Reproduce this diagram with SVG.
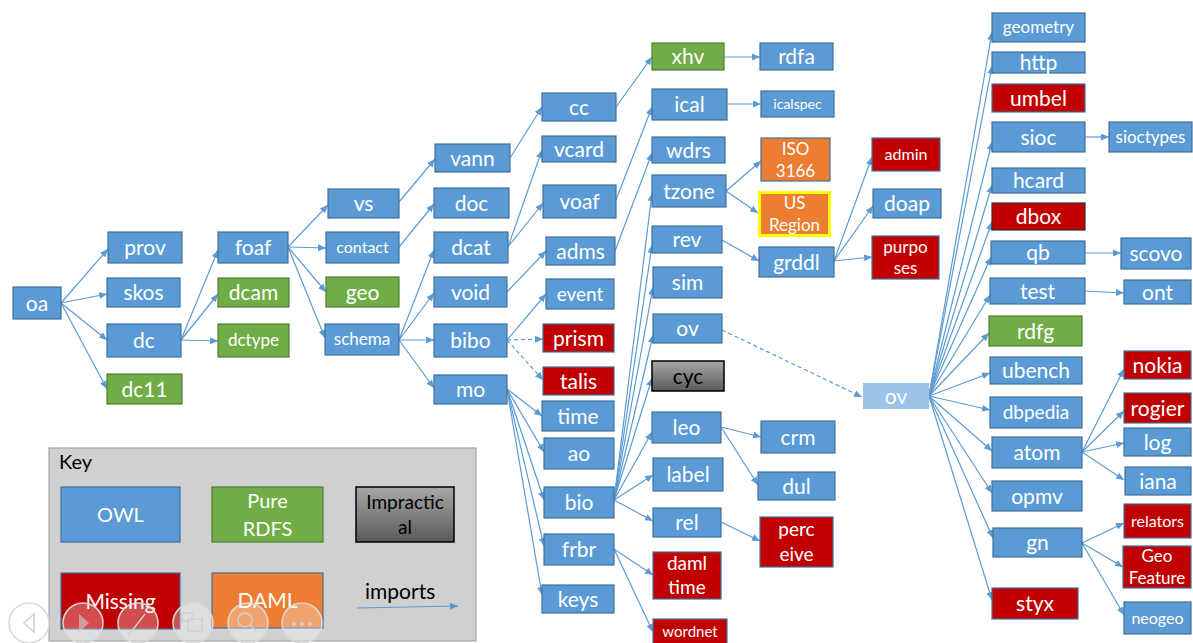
<svg xmlns="http://www.w3.org/2000/svg" width="1193" height="643" viewBox="0 0 1193 643">
<defs>
<style>
.owl{fill:#5B9BD5;stroke:#41719C;stroke-width:1.2}
.rdfs{fill:#70AD47;stroke:#507E32;stroke-width:1.2}
.miss{fill:#C00000;stroke:#41719C;stroke-width:1.2}
.daml{fill:#ED7D31;stroke:#41719C;stroke-width:1.2}
.imp{fill:url(#gray);stroke:#000;stroke-width:1.5}
.lt{fill:#9DC3E6}
text{font-family:Lato,"Liberation Sans",sans-serif;text-anchor:middle;dominant-baseline:central;fill:#fff;font-size:21px;transform:translateY(-1px)}
.k{fill:#000}
.s19{font-size:19px}.s17{font-size:17px}.s16{font-size:16px}.s15{font-size:15px}.s14{font-size:14px}
.e{stroke:#5B9BD5;stroke-width:1.2;fill:none;marker-end:url(#ah)}
.d{stroke-dasharray:4 3}
.ui{fill:#fff;fill-opacity:.3;stroke:#d9d9d9;stroke-width:1.5}
.ic{fill:none;stroke:#d0d0d0;stroke-width:1.5}
</style>
<linearGradient id="gray" x1="0" y1="0" x2="0" y2="1"><stop offset="0" stop-color="#a8a8a8"/><stop offset="1" stop-color="#5a5a5a"/></linearGradient>
<marker id="ah" markerWidth="8" markerHeight="7" refX="8" refY="3.5" orient="auto" markerUnits="userSpaceOnUse"><path d="M0,0 L8,3.5 L0,7 z" fill="#5B9BD5"/></marker>
</defs>
<rect width="1193" height="643" fill="#fff"/>

<g id="legend">
<rect x="49" y="448" width="427" height="193" fill="#d0d0d0" stroke="#a6a6a6" stroke-width="1.2"/>
<text x="59" y="462" class="k" style="text-anchor:start;font-size:20px">Key</text>
<rect class="owl" x="61" y="487" width="119" height="55"/><text x="120.5" y="514.5" style="font-size:20px">OWL</text>
<rect class="rdfs" x="212" y="487" width="111" height="55"/><text x="267.5" y="500.5" style="font-size:20px">Pure</text><text x="267.5" y="528.5" style="font-size:20px">RDFS</text>
<rect class="imp" x="356" y="487" width="98" height="55"/><text class="k s19" x="405" y="502">Impractic</text><text class="k s19" x="405" y="527">al</text>
<rect class="miss" x="61" y="573" width="119" height="56"/><text x="120.5" y="601">Missing</text>
<rect class="daml" x="212" y="573" width="111" height="55"/><text x="267.5" y="600.5">DAML</text>
<text x="365" y="591" class="k" style="text-anchor:start">imports</text>
<line class="e" x1="357" y1="608" x2="458" y2="606"/>
</g>

<g id="connectors">
<line class="e" x1="61" y1="303" x2="108" y2="249"/>
<line class="e" x1="61" y1="303" x2="107" y2="294"/>
<line class="e" x1="61" y1="303" x2="107" y2="340"/>
<line class="e" x1="61" y1="303" x2="107" y2="389"/>
<line class="e" x1="181" y1="340" x2="218" y2="250"/>
<line class="e" x1="181" y1="340" x2="218" y2="294"/>
<line class="e" x1="181" y1="340" x2="218" y2="341"/>
<line class="e" x1="288" y1="247" x2="328" y2="205"/>
<line class="e" x1="288" y1="247" x2="326" y2="248"/>
<line class="e" x1="288" y1="247" x2="326" y2="292"/>
<line class="e" x1="288" y1="247" x2="325" y2="338"/>
<line class="e" x1="399" y1="202" x2="435" y2="159"/>
<line class="e" x1="399" y1="247" x2="434" y2="204"/>
<line class="e" x1="399" y1="340" x2="434" y2="250"/>
<line class="e" x1="399" y1="340" x2="434" y2="293"/>
<line class="e" x1="399" y1="340" x2="434" y2="340"/>
<line class="e" x1="399" y1="340" x2="434" y2="388"/>
<line class="e" x1="510" y1="158" x2="542" y2="107"/>
<line class="e" x1="508" y1="247" x2="542" y2="150"/>
<line class="e" x1="508" y1="247" x2="543" y2="203"/>
<line class="e" x1="507" y1="292" x2="546" y2="251"/>
<line class="e" x1="507" y1="340" x2="546" y2="294"/>
<line class="e d" x1="507" y1="340" x2="543" y2="339"/>
<line class="e d" x1="507" y1="340" x2="543" y2="380"/>
<line class="e" x1="507" y1="389" x2="542" y2="416"/>
<line class="e" x1="507" y1="389" x2="544" y2="452"/>
<line class="e" x1="507" y1="389" x2="544" y2="500"/>
<line class="e" x1="507" y1="389" x2="544" y2="546"/>
<line class="e" x1="507" y1="389" x2="542" y2="595"/>
<line class="e" x1="616" y1="107" x2="652" y2="57"/>
<line class="e" x1="616" y1="200" x2="652" y2="107"/>
<line class="e" x1="615" y1="251" x2="652" y2="153"/>
<line class="e" x1="614" y1="500" x2="652" y2="193"/>
<line class="e" x1="614" y1="500" x2="652" y2="245"/>
<line class="e" x1="614" y1="500" x2="653" y2="287"/>
<line class="e" x1="614" y1="500" x2="653" y2="335"/>
<line class="e" x1="614" y1="500" x2="652" y2="378"/>
<line class="e" x1="614" y1="500" x2="652" y2="432"/>
<line class="e" x1="614" y1="500" x2="653" y2="475"/>
<line class="e" x1="614" y1="500" x2="653" y2="521"/>
<line class="e" x1="614" y1="549" x2="653" y2="575"/>
<line class="e" x1="614" y1="549" x2="653" y2="632"/>
<line class="e" x1="724" y1="57" x2="760" y2="57"/>
<line class="e" x1="727" y1="104" x2="761" y2="104"/>
<line class="e" x1="726" y1="191" x2="761" y2="161"/>
<line class="e" x1="726" y1="191" x2="758" y2="213"/>
<line class="e" x1="722" y1="240" x2="759" y2="261"/>
<line class="e" x1="834" y1="261" x2="872" y2="157"/>
<line class="e" x1="834" y1="261" x2="873" y2="206"/>
<line class="e" x1="834" y1="261" x2="872" y2="257"/>
<line class="e d" x1="722" y1="330" x2="862" y2="397"/>
<line class="e" x1="721" y1="427" x2="761" y2="437"/>
<line class="e" x1="721" y1="427" x2="758" y2="485"/>
<line class="e" x1="721" y1="522" x2="760" y2="541"/>
<line class="e" x1="929" y1="396" x2="992" y2="32"/>
<line class="e" x1="929" y1="396" x2="992" y2="66"/>
<line class="e" x1="929" y1="396" x2="992" y2="142"/>
<line class="e" x1="929" y1="396" x2="992" y2="185"/>
<line class="e" x1="929" y1="396" x2="992" y2="222"/>
<line class="e" x1="929" y1="396" x2="991" y2="257"/>
<line class="e" x1="929" y1="396" x2="990" y2="295"/>
<line class="e" x1="929" y1="396" x2="989" y2="333"/>
<line class="e" x1="929" y1="396" x2="990" y2="373"/>
<line class="e" x1="929" y1="396" x2="990" y2="410"/>
<line class="e" x1="929" y1="396" x2="992" y2="451"/>
<line class="e" x1="929" y1="396" x2="992" y2="493"/>
<line class="e" x1="929" y1="396" x2="993" y2="538"/>
<line class="e" x1="929" y1="396" x2="992" y2="600"/>
<line class="e" x1="1085" y1="137" x2="1109" y2="137"/>
<line class="e" x1="1085" y1="253" x2="1121" y2="253"/>
<line class="e" x1="1085" y1="291" x2="1124" y2="293"/>
<line class="e" x1="1082" y1="452" x2="1124" y2="369"/>
<line class="e" x1="1082" y1="452" x2="1124" y2="411"/>
<line class="e" x1="1082" y1="452" x2="1124" y2="443"/>
<line class="e" x1="1082" y1="452" x2="1124" y2="480"/>
<line class="e" x1="1082" y1="543" x2="1124" y2="523"/>
<line class="e" x1="1082" y1="543" x2="1123" y2="567"/>
<line class="e" x1="1082" y1="543" x2="1124" y2="615"/>
</g>

<g id="n-oa"><rect class="owl" x="13" y="287" width="48" height="32"/><text x="37" y="303">oa</text></g>
<g id="n-prov"><rect class="owl" x="108" y="232" width="74" height="31"/><text x="145" y="247.5">prov</text></g>
<g id="n-skos"><rect class="owl" x="107" y="278" width="73" height="29"/><text x="143.5" y="292.5">skos</text></g>
<g id="n-dc"><rect class="owl" x="107" y="324" width="74" height="33"/><text x="144" y="340.5">dc</text></g>
<g id="n-dc11"><rect class="rdfs" x="107" y="374" width="75" height="30"/><text x="144.5" y="389">dc11</text></g>
<g id="n-foaf"><rect class="owl" x="218" y="232" width="70" height="31"/><text x="253" y="247.5">foaf</text></g>
<g id="n-dcam"><rect class="rdfs" x="218" y="278" width="71" height="29"/><text x="253.5" y="292.5">dcam</text></g>
<g id="n-dctype"><rect class="rdfs" x="218" y="324" width="71" height="33"/><text class="s17" x="253.5" y="340.5">dctype</text></g>
<g id="n-vs"><rect class="owl" x="328" y="189" width="71" height="29"/><text x="363.5" y="203.5">vs</text></g>
<g id="n-contact"><rect class="owl" x="326" y="232" width="73" height="31"/><text class="s16" x="362.5" y="247.5">contact</text></g>
<g id="n-geo"><rect class="rdfs" x="326" y="277" width="73" height="30"/><text x="362.5" y="292">geo</text></g>
<g id="n-schema"><rect class="owl" x="325" y="324" width="74" height="31"/><text class="s17" x="362" y="339.5">schema</text></g>
<g id="n-vann"><rect class="owl" x="435" y="144" width="75" height="28"/><text x="472.5" y="158">vann</text></g>
<g id="n-doc"><rect class="owl" x="434" y="188" width="75" height="30"/><text x="471.5" y="203">doc</text></g>
<g id="n-dcat"><rect class="owl" x="434" y="232" width="74" height="31"/><text x="471" y="247.5">dcat</text></g>
<g id="n-void"><rect class="owl" x="434" y="277" width="73" height="30"/><text x="470.5" y="292">void</text></g>
<g id="n-bibo"><rect class="owl" x="434" y="324" width="73" height="33"/><text x="470.5" y="340.5">bibo</text></g>
<g id="n-mo"><rect class="owl" x="434" y="375" width="73" height="29"/><text x="470.5" y="389.5">mo</text></g>
<g id="n-cc"><rect class="owl" x="542" y="93" width="74" height="28"/><text x="579" y="107">cc</text></g>
<g id="n-vcard"><rect class="owl" x="542" y="136" width="74" height="26"/><text x="579" y="149">vcard</text></g>
<g id="n-voaf"><rect class="owl" x="543" y="185" width="73" height="33"/><text x="579.5" y="201.5">voaf</text></g>
<g id="n-adms"><rect class="owl" x="546" y="237" width="69" height="28"/><text x="580.5" y="251">adms</text></g>
<g id="n-event"><rect class="owl" x="546" y="279" width="68" height="30"/><text class="s19" x="580" y="294">event</text></g>
<g id="n-prism"><rect class="miss" x="543" y="324" width="71" height="28"/><text x="578.5" y="338">prism</text></g>
<g id="n-talis"><rect class="miss" x="543" y="367" width="71" height="28"/><text x="578.5" y="381">talis</text></g>
<g id="n-time"><rect class="owl" x="542" y="401" width="72" height="30"/><text x="578" y="416">time</text></g>
<g id="n-ao"><rect class="owl" x="544" y="438" width="70" height="31"/><text x="579" y="453.5">ao</text></g>
<g id="n-bio"><rect class="owl" x="544" y="487" width="70" height="31"/><text x="579" y="502.5">bio</text></g>
<g id="n-frbr"><rect class="owl" x="544" y="534" width="70" height="31"/><text x="579" y="549.5">frbr</text></g>
<g id="n-keys"><rect class="owl" x="542" y="585" width="72" height="28"/><text x="578" y="599">keys</text></g>
<g id="n-xhv"><rect class="rdfs" x="652" y="43" width="72" height="27"/><text x="688" y="56.5">xhv</text></g>
<g id="n-rdfa"><rect class="owl" x="760" y="43" width="73" height="27"/><text x="796.5" y="56.5">rdfa</text></g>
<g id="n-ical"><rect class="owl" x="652" y="89" width="75" height="31"/><text x="689.5" y="104.5">ical</text></g>
<g id="n-icalspec"><rect class="owl" x="761" y="91" width="73" height="26"/><text class="s14" x="797.5" y="104">icalspec</text></g>
<g id="n-wdrs"><rect class="owl" x="652" y="137" width="73" height="26"/><text x="688.5" y="150">wdrs</text></g>
<g id="n-tzone"><rect class="owl" x="652" y="175" width="74" height="32"/><text x="689" y="191">tzone</text></g>
<g id="n-iso3166"><rect class="daml" x="761" y="138" width="69" height="43"/><text class="s17" x="795.5" y="149">ISO</text><text class="s17" x="795.5" y="171">3166</text></g>
<g id="n-usregion"><rect class="daml" x="759.5" y="192.5" width="70" height="43" style="stroke:#FFFF00;stroke-width:3"/><text class="s17" x="794.5" y="203.5">US</text><text class="s17" x="794.5" y="225.5">Region</text></g>
<g id="n-rev"><rect class="owl" x="652" y="226" width="70" height="27"/><text x="687" y="239.5">rev</text></g>
<g id="n-sim"><rect class="owl" x="653" y="267" width="69" height="31"/><text x="687.5" y="282.5">sim</text></g>
<g id="n-ov"><rect class="owl" x="653" y="314" width="69" height="29"/><text x="687.5" y="328.5">ov</text></g>
<g id="n-cyc"><rect class="imp" x="652" y="361" width="72" height="30"/><text class="k" x="688" y="376">cyc</text></g>
<g id="n-leo"><rect class="owl" x="652" y="412" width="69" height="31"/><text x="686.5" y="427.5">leo</text></g>
<g id="n-label"><rect class="owl" x="653" y="458" width="70" height="33"/><text x="688" y="474.5">label</text></g>
<g id="n-rel"><rect class="owl" x="653" y="508" width="68" height="29"/><text x="687" y="522.5">rel</text></g>
<g id="n-damltime"><rect class="miss" x="653" y="552" width="68" height="47"/><text class="s19" x="687" y="563.5">daml</text><text class="s19" x="687" y="587.5">time</text></g>
<g id="n-wordnet"><rect class="miss" x="653" y="619" width="74" height="26"/><text class="s15" x="690" y="632">wordnet</text></g>
<g id="n-grddl"><rect class="owl" x="759" y="247" width="75" height="30"/><text x="796.5" y="262">grddl</text></g>
<g id="n-crm"><rect class="owl" x="761" y="421" width="74" height="32"/><text x="798" y="437">crm</text></g>
<g id="n-dul"><rect class="owl" x="758" y="472" width="77" height="28"/><text x="796.5" y="486">dul</text></g>
<g id="n-perceive"><rect class="miss" x="760" y="517" width="73" height="50"/><text class="s19" x="796.5" y="529.5">perc</text><text class="s19" x="796.5" y="554.5">eive</text></g>
<g id="n-admin"><rect class="miss" x="872" y="138" width="68" height="33"/><text class="s16" x="906" y="154.5">admin</text></g>
<g id="n-doap"><rect class="owl" x="873" y="189" width="68" height="29"/><text x="907" y="203.5">doap</text></g>
<g id="n-purposes"><rect class="miss" x="872" y="236" width="67" height="43"/><text class="s17" x="905.5" y="247">purpo</text><text class="s17" x="905.5" y="268">ses</text></g>
<g id="n-ov2"><rect class="lt" x="863" y="383" width="66" height="26"/><text x="896" y="396">ov</text></g>
<g id="n-geometry"><rect class="owl" x="992" y="13" width="93" height="29"/><text class="s17" x="1038.5" y="27.5">geometry</text></g>
<g id="n-http"><rect class="owl" x="992" y="52" width="93" height="21"/><text x="1038.5" y="62.5">http</text></g>
<g id="n-umbel"><rect class="miss" x="992" y="84" width="93" height="28"/><text x="1038.5" y="98">umbel</text></g>
<g id="n-sioc"><rect class="owl" x="992" y="122" width="93" height="30"/><text x="1038.5" y="137">sioc</text></g>
<g id="n-sioctypes"><rect class="owl" x="1109" y="122" width="83" height="30"/><text class="s17" x="1150.5" y="137">sioctypes</text></g>
<g id="n-hcard"><rect class="owl" x="992" y="168" width="93" height="25"/><text x="1038.5" y="180.5">hcard</text></g>
<g id="n-dbox"><rect class="miss" x="992" y="203" width="93" height="27" style="stroke:#333"/><text x="1038.5" y="216.5">dbox</text></g>
<g id="n-qb"><rect class="owl" x="991" y="241" width="94" height="23"/><text x="1038" y="252.5">qb</text></g>
<g id="n-scovo"><rect class="owl" x="1121" y="238" width="70" height="31"/><text x="1156" y="253.5">scovo</text></g>
<g id="n-test"><rect class="owl" x="990" y="278" width="95" height="26"/><text x="1037.5" y="291">test</text></g>
<g id="n-ont"><rect class="owl" x="1124" y="280" width="67" height="24"/><text x="1157.5" y="292">ont</text></g>
<g id="n-rdfg"><rect class="rdfs" x="989" y="316" width="93" height="30"/><text x="1035.5" y="331">rdfg</text></g>
<g id="n-ubench"><rect class="owl" x="990" y="357" width="92" height="27"/><text x="1036" y="370.5">ubench</text></g>
<g id="n-dbpedia"><rect class="owl" x="990" y="397" width="92" height="31"/><text class="s19" x="1036" y="412.5">dbpedia</text></g>
<g id="n-nokia"><rect class="miss" x="1124" y="351" width="67" height="28"/><text x="1157.5" y="365">nokia</text></g>
<g id="n-rogier"><rect class="miss" x="1124" y="393" width="67" height="30"/><text x="1157.5" y="408">rogier</text></g>
<g id="n-log"><rect class="owl" x="1124" y="428" width="67" height="28"/><text x="1157.5" y="442">log</text></g>
<g id="n-atom"><rect class="owl" x="992" y="437" width="90" height="31"/><text x="1037" y="452.5">atom</text></g>
<g id="n-iana"><rect class="owl" x="1125" y="467" width="66" height="28"/><text x="1158" y="481">iana</text></g>
<g id="n-opmv"><rect class="owl" x="992" y="481" width="90" height="30"/><text x="1037" y="496">opmv</text></g>
<g id="n-gn"><rect class="owl" x="993" y="528" width="89" height="29"/><text x="1037.5" y="542.5">gn</text></g>
<g id="n-relators"><rect class="miss" x="1124" y="504" width="67" height="34"/><text class="s16" x="1157.5" y="521">relators</text></g>
<g id="n-geofeature"><rect class="miss" x="1123" y="546" width="68" height="42"/><text class="s17" x="1157" y="556">Geo</text><text class="s17" x="1157" y="578">Feature</text></g>
<g id="n-neogeo"><rect class="owl" x="1124" y="602" width="67" height="32"/><text class="s16" x="1157.5" y="618">neogeo</text></g>
<g id="n-styx"><rect class="miss" x="992" y="588" width="86" height="31"/><text x="1035" y="603.5">styx</text></g>

<g id="slideshow-controls">
<circle class="ui" cx="29" cy="623" r="20"/><path class="ic" d="M34,614 L24,623 L34,632 z"/>
<circle class="ui" cx="83" cy="623" r="20"/><path d="M79,614 L89,623 L79,632 z" fill="#d0d0d0" fill-opacity=".6"/>
<circle class="ui" cx="138" cy="623" r="20"/><path class="ic" d="M131,632 L145,614 M128,635 L132,630"/>
<circle class="ui" cx="193" cy="623" r="20"/><rect class="ic" x="182" y="613" width="10" height="8"/><rect class="ic" x="188" y="619" width="14" height="12"/>
<circle class="ui" cx="248" cy="623" r="20"/><circle class="ic" cx="245" cy="620" r="7"/><path class="ic" d="M250,625 L257,632"/>
<circle class="ui" cx="302" cy="623" r="20"/><circle cx="294" cy="624" r="2" fill="#d0d0d0"/><circle cx="302" cy="624" r="2" fill="#d0d0d0"/><circle cx="310" cy="624" r="2" fill="#d0d0d0"/>
</g>
</svg>
